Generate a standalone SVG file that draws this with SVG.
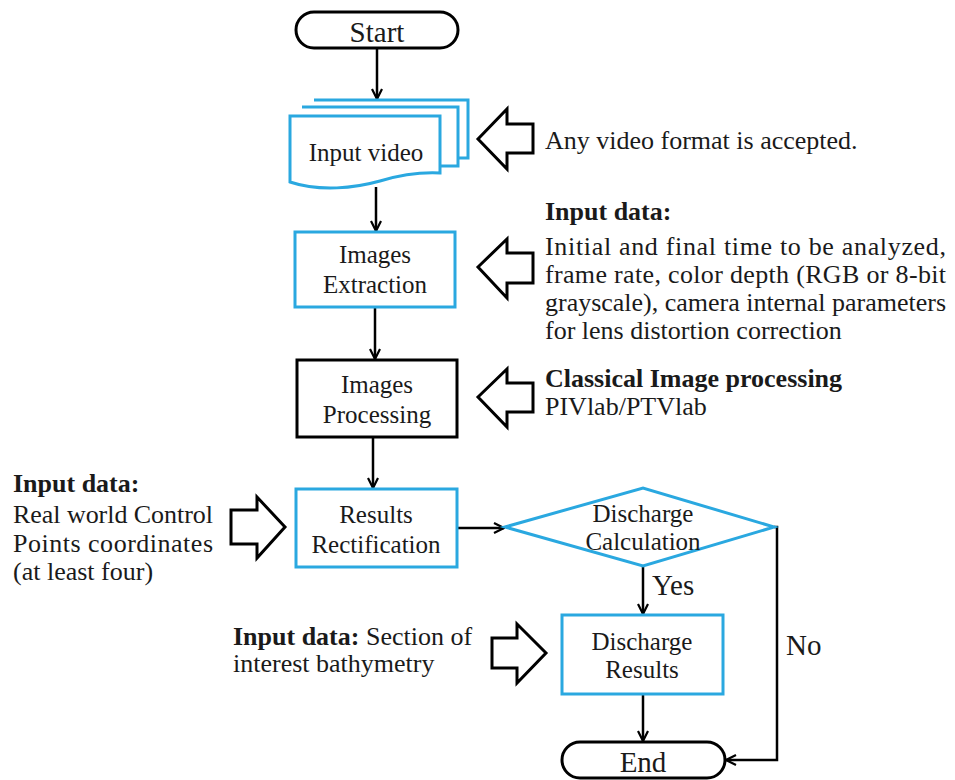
<svg xmlns="http://www.w3.org/2000/svg" width="955" height="780" viewBox="0 0 955 780">
<defs>
<style>
text{font-family:"Liberation Serif","Times New Roman",serif;fill:#1a1a1a}
.t{font-size:25px;text-anchor:middle}
.big{font-size:29px}
.side{font-size:26px}
.b{font-weight:bold}
.blue{fill:#fff;stroke:#2aa8e0;stroke-width:3}
.blk{fill:#fff;stroke:#000;stroke-width:3}
.conn{fill:none;stroke:#000;stroke-width:2.5}
.barrow{fill:#fff;stroke:#000;stroke-width:3;stroke-linejoin:miter}
</style>
<marker id="ah" viewBox="0 0 12 12" refX="11" refY="6" markerWidth="12" markerHeight="12" markerUnits="userSpaceOnUse" orient="auto">
<path d="M1,1 L11,6 L1,11" fill="none" stroke="#000" stroke-width="2.2"/>
</marker>
</defs>
<rect width="955" height="780" fill="#fff"/>

<g id="connectors">
<line class="conn" x1="377" y1="48" x2="377" y2="99" marker-end="url(#ah)"/>
<line class="conn" x1="376" y1="187" x2="376" y2="231" marker-end="url(#ah)"/>
<line class="conn" x1="375" y1="307" x2="375" y2="359" marker-end="url(#ah)"/>
<line class="conn" x1="373" y1="437" x2="373" y2="488" marker-end="url(#ah)"/>
<line class="conn" x1="457" y1="528" x2="504" y2="528" marker-end="url(#ah)"/>
<line class="conn" x1="643" y1="566" x2="643" y2="614" marker-end="url(#ah)"/>
<line class="conn" x1="643" y1="694" x2="643" y2="741" marker-end="url(#ah)"/>
<polyline class="conn" points="774,527 777,527 777,760 726,760" marker-end="url(#ah)"/>
<text class="big" x="652" y="595">Yes</text>
<text class="big" x="786" y="655">No</text>
</g>

<g id="start">
<rect class="blk" x="296" y="12" width="162" height="36" rx="18"/>
<text class="big" x="377" y="42" text-anchor="middle">Start</text>
</g>

<g id="input-video">
<path class="blue" d="M314,100 H468 V158 H458"/>
<path class="blue" d="M302,107 H458 V166 H440"/>
<path class="blue" d="M290,116 H440 V173 C420,172 400,175 380,181 C355,188 320,192 290,182 Z"/>
<text class="t" x="366" y="161">Input video</text>
</g>

<g id="images-extraction">
<rect class="blue" x="295" y="232" width="160" height="75"/>
<text class="t" x="375" y="263">Images</text>
<text class="t" x="375" y="293">Extraction</text>
</g>

<g id="images-processing">
<rect class="blk" x="297" y="360" width="160" height="77"/>
<text class="t" x="377" y="393">Images</text>
<text class="t" x="377" y="423">Processing</text>
</g>

<g id="results-rectification">
<rect class="blue" x="296" y="489" width="161" height="78"/>
<text class="t" x="376" y="523">Results</text>
<text class="t" x="376" y="553">Rectification</text>
</g>

<g id="discharge-calculation">
<polygon class="blue" points="505,527 643,488 774,527 643,566"/>
<text class="t" x="643" y="522" font-size="24">Discharge</text>
<text class="t" x="643" y="550" font-size="24">Calculation</text>
</g>

<g id="discharge-results">
<rect class="blue" x="562" y="615" width="161" height="79"/>
<text class="t" x="642" y="650">Discharge</text>
<text class="t" x="642" y="678">Results</text>
</g>

<g id="end">
<rect class="blk" x="562" y="742" width="163" height="36" rx="18"/>
<text class="big" x="643" y="772" text-anchor="middle">End</text>
</g>

<g id="note-video">
<polygon class="barrow" points="478,139 507,109 507,124 533,124 533,153 507,153 507,169"/>
<text class="side" x="545" y="149">Any video format is accepted.</text>
</g>

<g id="note-extraction">
<polygon class="barrow" points="478,267 507,239 507,253 533,253 533,283 507,283 507,298"/>
<text class="side b" x="545" y="220">Input data:</text>
<text class="side" x="545" y="255" textLength="401" lengthAdjust="spacing">Initial and final time to be analyzed,</text>
<text class="side" x="545" y="283" textLength="401" lengthAdjust="spacing">frame rate, color depth (RGB or 8-bit</text>
<text class="side" x="545" y="311" textLength="401" lengthAdjust="spacing">grayscale), camera internal parameters</text>
<text class="side" x="545" y="339">for lens distortion correction</text>
</g>

<g id="note-processing">
<polygon class="barrow" points="478,397 507,369 507,383 533,383 533,412 507,412 507,427"/>
<text class="side b" x="545" y="387">Classical Image processing</text>
<text class="side" x="545" y="415">PIVlab/PTVlab</text>
</g>

<g id="note-rectification">
<polygon class="barrow" points="231,510 257,510 257,497 285,527 257,558 257,544 231,544"/>
<text class="side b" x="13" y="492">Input data:</text>
<text class="side" x="13" y="523" textLength="200" lengthAdjust="spacing">Real world Control</text>
<text class="side" x="13" y="552" textLength="200" lengthAdjust="spacing">Points   coordinates</text>
<text class="side" x="13" y="580">(at least four)</text>
</g>

<g id="note-bathymetry">
<polygon class="barrow" points="492,638 517,638 517,624 546,653 517,683 517,668 492,668"/>
<text class="side" x="233" y="645"><tspan class="b">Input data:</tspan> Section of</text>
<text class="side" x="233" y="672">interest bathymetry</text>
</g>
</svg>
